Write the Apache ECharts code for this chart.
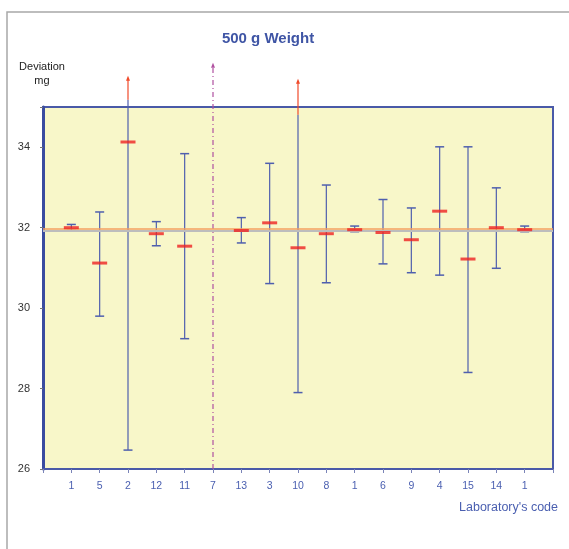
<!DOCTYPE html>
<html>
<head>
<meta charset="utf-8">
<script src="https://cdn.jsdelivr.net/npm/echarts@6/dist/echarts.min.js"></script>
<style>
html,body{margin:0;padding:0;background:#fff;}
#chart{width:569px;height:549px;}
</style>
</head>
<body>
<div id="chart"></div>
<script>
// Laboratory codes in plotted order (positions 1..17)
const labCodes = ['1','5','2','12','11','7','13','3','10','8','1','6','9','4','15','14','1'];
// Mean deviation (mg); null = no result plotted
const means = [32.00, 31.12, 34.13, 31.85, 31.54, null, 31.93, 32.12, 31.50, 31.85, 31.95, 31.88, 31.70, 32.41, 31.22, 32.00, 31.95];
// Lower / upper ends of uncertainty bars
const lows  = [31.93, 29.80, 26.47, 31.55, 29.24, null, 31.62, 30.61, 27.90, 30.63, 31.90, 31.10, 30.88, 30.82, 28.40, 30.99, 31.90];
const highs = [32.08, 32.39, 35.18, 32.15, 33.84, null, 32.25, 33.60, 34.81, 33.06, 32.04, 32.70, 32.49, 34.01, 34.01, 32.99, 32.04];
// Whether the upper end has a cap (0 = bar continues off scale)
const upperCap = [1, 1, 0, 1, 1, 0, 1, 1, 0, 1, 1, 1, 1, 1, 1, 1, 1];
// Upper bars running off scale: [position, start, arrow tip]
const offScale = [[3, 35.18, 35.78], [9, 34.81, 35.70]];
// Reference (pilot lab) marker line for lab 7: [position, bottom, arrow tip]
const refLab = [[6, 26, 36.10]];
// Reference values (horizontal lines)
const refOrange = 31.98;
const refGray = 31.92;
const yTicks = [26, 28, 30, 32, 34];

const blue = '#4f5fae';
const chart = echarts.init(document.getElementById('chart'));

const barData = [];
const meanData = [];
for (let i = 0; i < labCodes.length; i++) {
  if (lows[i] != null) barData.push([i + 1, lows[i], highs[i], upperCap[i]]);
  if (means[i] != null) meanData.push([i + 1, means[i]]);
}

function arrowShape(api, x, y0, y1, color, dash, width) {
  const p0 = api.coord([x, y0]);
  const p1 = api.coord([x, y1]);
  return {
    type: 'group',
    children: [
      { type: 'line', shape: { x1: p0[0], y1: p0[1], x2: p1[0], y2: p1[1] + 2 },
        style: { stroke: color, lineWidth: width, lineDash: dash } },
      { type: 'polygon', shape: { points: [[p1[0], p1[1]], [p1[0] - 2, p1[1] + 5], [p1[0] + 2, p1[1] + 5]] },
        style: { fill: color } }
    ]
  };
}

const option = {
  animation: false,
  textStyle: { fontFamily: 'Liberation Sans, Arial, sans-serif' },
  grid: {
    left: 43, right: 16, top: 107, bottom: 80,
    show: true, backgroundColor: '#f8f7c9', borderColor: '#4a5aa8', borderWidth: 2
  },
  xAxis: {
    type: 'value', min: 0, max: 18, interval: 1,
    axisLine: { lineStyle: { color: '#4a5aa8', width: 2 } },
    axisTick: { length: 4, lineStyle: { color: '#7a84b8' } },
    splitLine: { show: false },
    axisLabel: {
      color: '#4a5fb0', fontSize: 10.5, margin: 12,
      formatter: v => labCodes[v - 1] || ''
    }
  },
  yAxis: {
    type: 'value', min: 26, max: 35, interval: 2,
    axisLine: { show: true, lineStyle: { color: '#3a4ca0', width: 3 } },
    axisTick: { show: true, length: 3, lineStyle: { color: '#777' } },
    splitLine: { show: false },
    axisLabel: {
      color: '#333', fontSize: 11, margin: 13,
      formatter: v => yTicks.indexOf(v) >= 0 ? String(v) : ''
    }
  },
  graphic: [
    { type: 'rect', shape: { x: 7, y: 12, width: 580, height: 560 },
      style: { fill: 'none', stroke: '#a8a8a8', lineWidth: 1.5 }, z: -1 },
    { type: 'text', x: 268, y: 39,
      style: { text: '500 g Weight', fill: '#3f55a5', font: 'bold 15px Liberation Sans, Arial, sans-serif',
               textAlign: 'center', textVerticalAlign: 'middle' } },
    { type: 'text', x: 42, y: 67,
      style: { text: 'Deviation', fill: '#222', font: '11px Liberation Sans, Arial, sans-serif',
               textAlign: 'center', textVerticalAlign: 'middle' } },
    { type: 'text', x: 42, y: 81,
      style: { text: 'mg', fill: '#222', font: '11px Liberation Sans, Arial, sans-serif',
               textAlign: 'center', textVerticalAlign: 'middle' } },
    { type: 'text', x: 558, y: 508,
      style: { text: "Laboratory's code", fill: '#4a5fb0', font: '12.5px Liberation Sans, Arial, sans-serif',
               textAlign: 'right', textVerticalAlign: 'middle' } }
  ],
  series: [
    {
      type: 'line', data: [], silent: true,
      markLine: {
        silent: true, symbol: 'none', label: { show: false },
        data: [
          { yAxis: refGray, lineStyle: { color: '#bdbdbd', width: 2, type: 'solid' } },
          { yAxis: refOrange, lineStyle: { color: '#f5a060', width: 1.5, type: 'solid' } }
        ]
      }
    },
    {
      type: 'custom', clip: false, data: barData, z: 3,
      renderItem: (params, api) => {
        const x = api.value(0);
        const lo = api.coord([x, api.value(1)]);
        const hi = api.coord([x, api.value(2)]);
        const hw = 4.5;
        const children = [
          { type: 'line', shape: { x1: lo[0], y1: lo[1], x2: hi[0], y2: hi[1] },
            style: { stroke: blue, lineWidth: 1.2 } },
          { type: 'line', shape: { x1: lo[0] - hw, y1: lo[1], x2: lo[0] + hw, y2: lo[1] },
            style: { stroke: blue, lineWidth: 1.5 } }
        ];
        if (api.value(3)) {
          children.push({ type: 'line', shape: { x1: hi[0] - hw, y1: hi[1], x2: hi[0] + hw, y2: hi[1] },
            style: { stroke: blue, lineWidth: 1.5 } });
        }
        return { type: 'group', children };
      }
    },
    {
      type: 'custom', clip: false, data: offScale, z: 3,
      renderItem: (params, api) => arrowShape(api, api.value(0), api.value(1), api.value(2), '#f04a2a', null, 1.2)
    },
    {
      type: 'custom', clip: false, data: refLab, z: 2,
      renderItem: (params, api) => arrowShape(api, api.value(0), api.value(1), api.value(2), '#b050a0', [5, 3, 1, 3], 1.2)
    },
    {
      type: 'scatter', data: meanData, z: 5,
      symbol: 'rect', symbolSize: [15, 3],
      itemStyle: { color: '#ee2222' }
    }
  ]
};
chart.setOption(option);
</script>
</body>
</html>
